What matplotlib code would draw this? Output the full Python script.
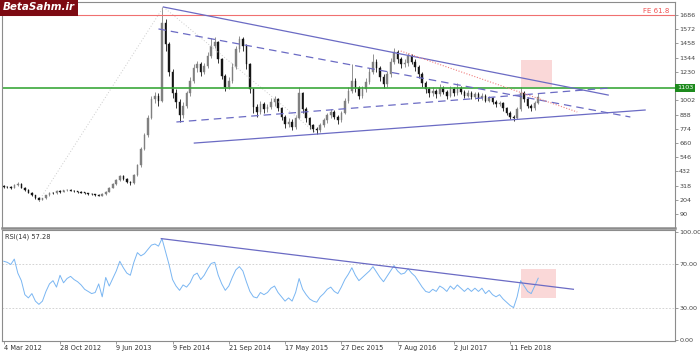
import numpy as np
import matplotlib.pyplot as plt
from matplotlib.patches import Rectangle

# weekly-ish bars (every ~2 weeks)
close = [310, 305, 300, 320, 330, 300, 285, 260, 240, 220,
         205, 215, 240, 260, 255, 275, 270, 280, 285, 278,
         272, 268, 262, 258, 252, 248, 243, 238, 250, 270,
         300, 330, 360, 395, 370, 345, 335, 400, 480, 610,
         720, 860, 1010, 1040, 1000, 1620, 1450, 1230, 1060, 990,
         880, 960, 1060, 1160, 1260, 1290, 1230, 1280, 1360, 1440,
         1470, 1330, 1200, 1110, 1160, 1270, 1410, 1490, 1440, 1290,
         1090, 950, 910, 970, 930, 950, 990, 1010, 940, 870,
         810, 830, 790, 860, 1060, 930, 860, 800, 770, 760,
         800, 840, 880, 910, 870, 840, 900, 1000, 1080, 1160,
         1100, 1040, 1090, 1150, 1230, 1310, 1260, 1190, 1130, 1210,
         1310, 1390, 1330, 1290, 1300, 1360, 1310, 1270, 1210, 1140,
         1090, 1060, 1080, 1050, 1100, 1070, 1040, 1090, 1060, 1100,
         1070, 1040, 1060, 1030, 1050, 1020, 1040, 1000, 1020, 990,
         970, 980, 940, 900, 870, 860, 930, 1060, 1010, 960,
         940, 980, 1030]
high = [322, 315, 312, 328, 345, 335, 305, 290, 265, 245,
        224, 222, 246, 268, 266, 282, 280, 286, 292, 290,
        282, 276, 272, 266, 262, 256, 252, 247, 256, 278,
        306, 338, 368, 405, 400, 375, 352, 408, 495, 625,
        740, 880, 1040, 1070, 1060, 1750, 1650, 1470, 1250, 1090,
        1010, 985, 1080, 1190, 1290, 1320, 1310, 1300, 1390, 1500,
        1510, 1480, 1345, 1215, 1190, 1300, 1440, 1520, 1510, 1450,
        1300, 1100, 970, 1000, 990, 975, 1020, 1040, 1020, 950,
        880, 860, 850, 880, 1110, 1070, 950, 870, 815, 790,
        820, 860, 900, 930, 925, 885, 920, 1020, 1110, 1290,
        1180, 1120, 1115, 1180, 1260, 1370, 1330, 1280, 1210, 1240,
        1340, 1420, 1405, 1350, 1330, 1385, 1375, 1330, 1285, 1225,
        1160, 1110, 1110, 1095, 1130, 1115, 1085, 1120, 1105, 1140,
        1115, 1085, 1085, 1075, 1070, 1065, 1060, 1050, 1040, 1030,
        1005, 1000, 990, 950, 915, 885, 950, 1110, 1080, 1030,
        975, 1000, 1060]
low = [302, 298, 292, 296, 315, 295, 278, 255, 233, 212,
       196, 200, 210, 236, 248, 250, 262, 266, 275, 272,
       266, 262, 257, 252, 246, 242, 237, 232, 234, 246,
       265, 296, 325, 355, 362, 338, 326, 330, 395, 470,
       600, 710, 850, 980, 960, 990, 1400, 1200, 1020, 940,
       830, 860, 940, 1040, 1140, 1230, 1200, 1210, 1260, 1340,
       1420, 1300, 1170, 1080, 1090, 1140, 1250, 1390, 1400, 1250,
       1060, 900, 870, 890, 900, 910, 930, 960, 920, 840,
       780, 790, 760, 770, 850, 900, 830, 770, 745, 735,
       745, 785, 820, 860, 850, 815, 825, 890, 980, 1060,
       1070, 1010, 1020, 1070, 1130, 1210, 1230, 1160, 1100, 1110,
       1190, 1290, 1300, 1260, 1270, 1280, 1290, 1240, 1180, 1110,
       1060, 1030, 1040, 1020, 1035, 1050, 1010, 1030, 1040, 1045,
       1050, 1020, 1025, 1010, 1015, 1000, 1005, 985, 985, 970,
       950, 955, 920, 880, 850, 835, 850, 920, 990, 940,
       915, 925, 970]
rsi = [73, 72, 70, 75, 62, 55, 42, 39, 43, 36,
       33, 36, 45, 52, 55, 49, 60, 53, 57, 59,
       56, 54, 51, 47, 45, 43, 44, 52, 40, 58,
       50, 57, 64, 73, 67, 62, 60, 72, 81, 78,
       80, 84, 88, 89, 87, 94, 82, 70, 56, 50,
       46, 51, 49, 53, 60, 62, 56, 60, 66, 71,
       72, 60, 52, 46, 50, 58, 65, 68, 64, 54,
       45, 40, 39, 44, 42, 44, 48, 50, 44, 40,
       36, 39, 36, 44, 57, 47, 42, 38, 36, 35,
       40, 43, 47, 49, 45, 43, 49, 56, 61, 67,
       60, 55, 58, 61, 64, 68, 63, 58, 54, 59,
       64, 69, 64, 61, 62, 66, 62, 59, 54, 49,
       45, 44, 47, 45, 50, 48, 45, 50, 47, 51,
       48, 45, 48, 45, 48, 45, 48, 43, 46, 42,
       40, 42, 38, 35, 32, 30, 40, 55, 50, 45,
       43, 50, 57.28]

date_labels = ["4 Mar 2012", "28 Oct 2012", "9 Jun 2013", "9 Feb 2014", "21 Sep 2014",
               "17 May 2015", "27 Dec 2015", "7 Aug 2016", "2 Jul 2017", "11 Feb 2018"]
date_pos = [0, 16, 32, 48, 64, 80, 96, 112, 128, 144]
price_ticks = [1686, 1572, 1458, 1344, 1230, 1002, 888, 774, 660, 546, 432, 318, 204, 90]
level = 1103
fe_level = 1686

# trend lines (bar index, price)
tl_top = ([45.4, 171.9], [1750, 1044])
tl_dash_hi = ([44.0, 178.2], [1574, 868])
tl_dash_lo = ([49.1, 172.5], [828, 1101])
tl_bottom = ([54.2, 182.4], [659, 924])
tl_red = ([112.9, 163.1], [1397, 908])
fib_up = ([10, 45.4], [195, 1750])
fib_down = ([45.4, 88.8], [1750, 740])
rsi_line = ([44.8, 162], [94, 47])

close = np.array(close)
high = np.array(high)
low = np.array(low)
openp = np.r_[315, close[:-1]]
x = np.arange(len(close))

grey = '#8c8c8c'
blue = '#6b6bc4'
fig = plt.figure(figsize=(7.0, 3.54), dpi=100)
ax = fig.add_axes([2/700, 1-228/354, 673/700, 226/354])
ax2 = fig.add_axes([2/700, 1-341/354, 673/700, 111/354])

xmax = 190.9
for a in (ax, ax2):
    a.set_xlim(-0.5, xmax)
    for s in a.spines.values():
        s.set_color(grey)
        s.set_linewidth(0.8)
    a.yaxis.tick_right()
    a.tick_params(axis='y', labelsize=4.6, colors=grey, labelcolor='#444', length=2, width=0.6, pad=1)

ax.spines['bottom'].set_linewidth(1.8)
ax.set_ylim(-22, 1790)

# candles
w = 0.45
for i in x:
    up = close[i] >= openp[i]
    col = '#808080' if up else '#151515'
    ax.vlines(i, low[i], high[i], color=col, lw=0.6)
    lo_b = min(openp[i], close[i])
    h = max(abs(close[i] - openp[i]), 5)
    ax.add_patch(Rectangle((i - w/2, lo_b), w, h, facecolor=col, edgecolor=col, lw=0.3))

ax.plot(*fib_up, color='#cccccc', lw=0.7, ls=(0, (1, 2)))
ax.plot(*fib_down, color='#cccccc', lw=0.7, ls=(0, (1, 2)))
ax.axhline(fe_level, color='#f07070', lw=0.8)
ax.text(xmax - 1.5, fe_level + 8, 'FE 61.8', color='#f05050', fontsize=5, ha='right', va='bottom')
ax.axhline(level, color='#3aa83a', lw=1.4, alpha=0.85)
ax.plot(*tl_top, color=blue, lw=0.9)
ax.plot(*tl_bottom, color=blue, lw=0.9)
ax.plot(*tl_dash_hi, color=blue, lw=0.9, ls=(0, (6, 4)))
ax.plot(*tl_dash_lo, color=blue, lw=0.9, ls=(0, (6, 4)))
ax.plot(*tl_red, color='#f08080', lw=0.8, ls=(0, (1, 1.5)))
ax.add_patch(Rectangle((147, 1109), 9, 216, facecolor='#f8c8c8', alpha=0.7, lw=0, zorder=0))

ax.set_yticks(price_ticks)
ax.set_yticklabels([str(t) for t in price_ticks])
ax.text(1.003, level, str(level), transform=ax.get_yaxis_transform(), fontsize=4.6,
        color='white', va='center', ha='left',
        bbox=dict(boxstyle='square,pad=0.25', fc='#1d8a1d', ec='none'))
ax.set_xticks([])

fig.text(0.004, 0.993, 'BetaSahm.ir', fontsize=7.5, color='white', fontweight='bold', fontstyle='italic',
         ha='left', va='top', bbox=dict(boxstyle='square,pad=0.3', fc='#7d0a12', ec='none'))

# RSI
ax2.set_ylim(-1, 102)
ax2.add_patch(Rectangle((147, 39), 10, 27, facecolor='#f8c8c8', alpha=0.7, lw=0, zorder=0))
ax2.axhline(70, color='#cccccc', lw=0.6, ls=(0, (2, 2)))
ax2.axhline(30, color='#cccccc', lw=0.6, ls=(0, (2, 2)))
ax2.plot(x, rsi, color='#7ab6f2', lw=0.7)
ax2.plot(*rsi_line, color=blue, lw=0.9)
ax2.set_yticks([100, 70, 30, 0])
ax2.set_yticklabels(['100.00', '70.00', '30.00', '0.00'])
ax2.text(0.004, 0.97, 'RSI(14) 57.28', transform=ax2.transAxes, fontsize=4.8, color='#333',
         ha='left', va='top')
ax2.set_xticks(date_pos)
ax2.set_xticklabels(date_labels, ha='left')
ax2.tick_params(axis='x', labelsize=4.8, colors=grey, labelcolor='#333', length=2, width=0.6, pad=1)

fig.savefig('out.png', dpi=100)
